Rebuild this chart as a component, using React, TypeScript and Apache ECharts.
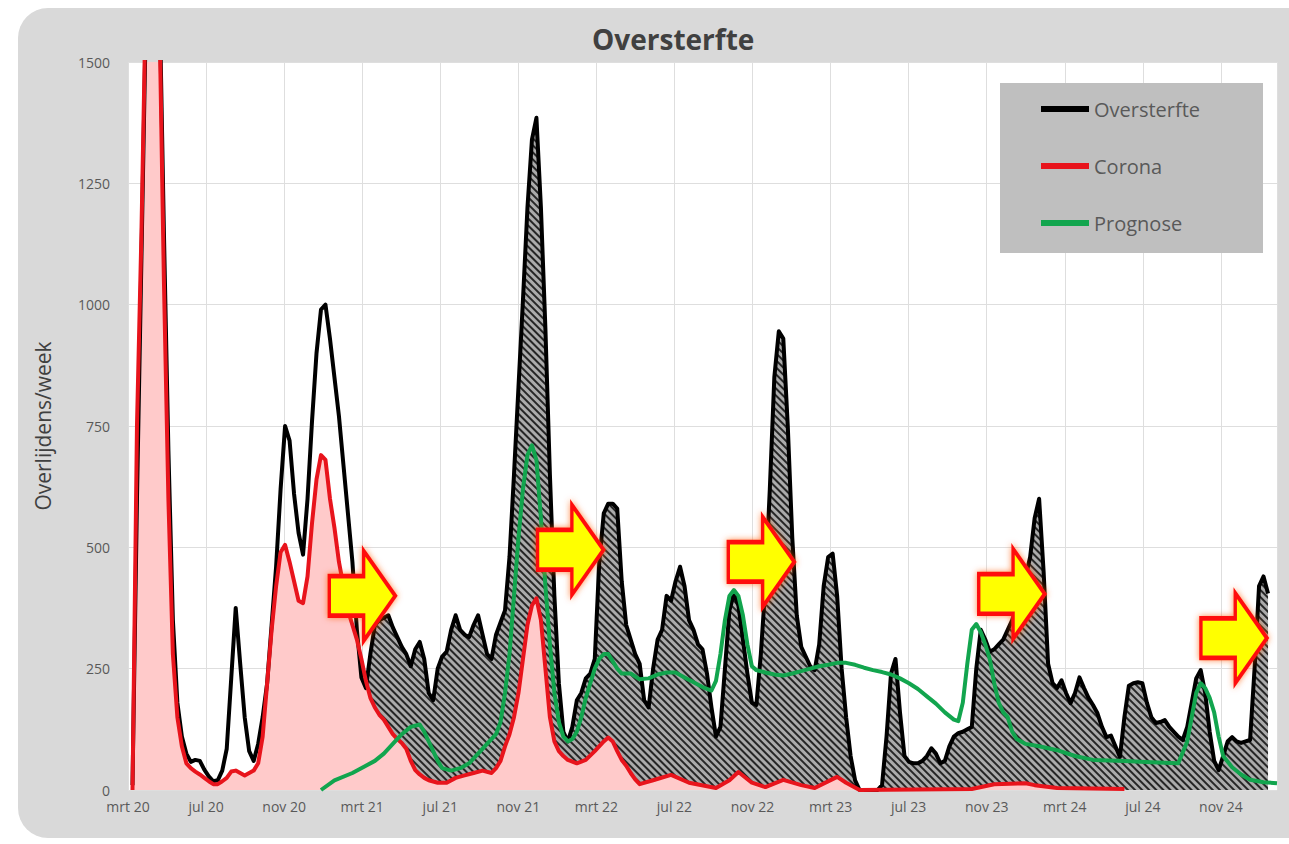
import React, { useEffect, useRef } from 'react';
import * as echarts from 'echarts';

// x axis: weeks since 1 March 2020; one tick every 4 months
const tickLabels = ['mrt 20', 'jul 20', 'nov 20', 'mrt 21', 'jul 21', 'nov 21', 'mrt 22', 'jul 22', 'nov 22', 'mrt 23', 'jul 23', 'nov 23', 'mrt 24', 'jul 24', 'nov 24'];
const WEEKS_PER_TICK = 121.75 / 7;
const X_MAX_WEEK = 256;

const legendNames = ['Oversterfte', 'Corona', 'Prognose'];

// [week, deaths per week]
const oversterfte: [number, number][] = [
  [1, 10], [2, 600], [3, 1100], [4, 1600], [5, 1800], [6, 1800], [7, 1650], [8, 1150], [9, 700], [10, 350],
  [11, 180], [12, 110], [13, 75], [14, 58], [15, 62], [16, 60], [17, 42], [18, 28], [19, 18], [20, 20],
  [21, 40], [22, 85], [23, 230], [24, 375], [25, 260], [26, 150], [27, 80], [28, 60], [29, 95], [30, 150],
  [31, 220], [32, 340], [33, 460], [34, 620], [35, 750], [36, 720], [37, 610], [38, 530], [39, 485], [40, 600],
  [41, 760], [42, 900], [43, 990], [44, 1000], [45, 930], [46, 850], [47, 770], [48, 670], [49, 570], [50, 470],
  [51, 330], [52, 232], [53, 210], [54, 280], [55, 340], [56, 350], [57, 355], [58, 360], [59, 335], [60, 315],
  [61, 295], [62, 280], [63, 255], [64, 290], [65, 305], [66, 270], [67, 200], [68, 185], [69, 250], [70, 275],
  [71, 285], [72, 330], [73, 360], [74, 330], [75, 320], [76, 315], [77, 340], [78, 360], [79, 320], [80, 280],
  [81, 270], [82, 320], [83, 345], [84, 370], [85, 480], [86, 650], [87, 830], [88, 1010], [89, 1200], [90, 1340],
  [91, 1385], [92, 1200], [93, 950], [94, 650], [95, 400], [96, 220], [97, 120], [98, 100], [99, 130], [100, 185],
  [101, 200], [102, 230], [103, 240], [104, 270], [105, 470], [106, 570], [107, 590], [108, 590], [109, 580], [110, 430],
  [111, 340], [112, 310], [113, 280], [114, 260], [115, 185], [116, 170], [117, 250], [118, 310], [119, 330], [120, 400],
  [121, 390], [122, 430], [123, 460], [124, 420], [125, 350], [126, 330], [127, 300], [128, 290], [129, 240], [130, 170],
  [131, 110], [132, 130], [133, 250], [134, 370], [135, 405], [136, 380], [137, 310], [138, 240], [139, 180], [140, 175],
  [141, 280], [142, 420], [143, 620], [144, 850], [145, 945], [146, 930], [147, 750], [148, 520], [149, 360], [150, 295],
  [151, 275], [152, 255], [153, 247], [154, 300], [155, 420], [156, 480], [157, 487], [158, 400], [159, 250], [160, 150],
  [161, 70], [162, 20], [163, 0], [167, 0], [168, 10], [169, 110], [170, 240], [171, 270], [172, 160], [173, 70],
  [174, 58], [175, 55], [176, 55], [177, 60], [178, 70], [179, 86], [180, 75], [181, 55], [182, 60], [183, 90],
  [184, 110], [185, 117], [186, 120], [187, 125], [188, 130], [189, 250], [190, 330], [191, 310], [192, 285], [193, 290],
  [194, 300], [195, 310], [196, 330], [197, 350], [198, 380], [199, 410], [200, 440], [201, 480], [202, 560], [203, 600],
  [204, 450], [205, 260], [206, 220], [207, 210], [208, 226], [209, 200], [210, 179], [211, 200], [212, 232], [213, 210],
  [214, 190], [215, 175], [216, 158], [217, 130], [218, 109], [219, 112], [220, 90], [221, 68], [222, 150], [223, 215],
  [224, 220], [225, 222], [226, 220], [227, 180], [228, 150], [229, 138], [230, 140], [231, 144], [232, 130], [233, 120],
  [234, 110], [235, 103], [236, 130], [237, 180], [238, 230], [239, 247], [240, 200], [241, 120], [242, 60], [243, 41],
  [244, 70], [245, 100], [246, 109], [247, 100], [248, 97], [249, 100], [250, 103], [251, 250], [252, 420], [253, 440],
  [254, 405],
];

const corona: [number, number][] = [
  [1, 0], [2, 750], [3, 1150], [4, 1650], [5, 1850], [6, 1800], [7, 1600], [8, 1050], [9, 600], [10, 280],
  [11, 150], [12, 90], [13, 55], [14, 45], [15, 38], [16, 32], [17, 25], [18, 18], [19, 12], [20, 12],
  [21, 18], [22, 25], [23, 38], [24, 40], [25, 35], [26, 30], [27, 35], [28, 40], [29, 55], [30, 110],
  [31, 220], [32, 330], [33, 420], [34, 490], [35, 505], [36, 470], [37, 430], [38, 390], [39, 385], [40, 440],
  [41, 550], [42, 640], [43, 690], [44, 680], [45, 600], [46, 540], [47, 470], [48, 420], [49, 370], [50, 340],
  [51, 310], [52, 270], [53, 225], [54, 190], [55, 170], [56, 155], [57, 145], [58, 130], [59, 115], [60, 105],
  [61, 97], [62, 85], [63, 60], [64, 41], [65, 32], [66, 25], [67, 20], [69, 15], [71, 15], [73, 25],
  [75, 30], [77, 35], [79, 40], [81, 35], [82, 45], [83, 60], [84, 90], [85, 115], [86, 150], [87, 200],
  [88, 270], [89, 340], [90, 380], [91, 395], [92, 350], [93, 250], [94, 150], [95, 100], [96, 80], [97, 70],
  [98, 62], [100, 55], [102, 62], [104, 80], [106, 100], [107, 108], [108, 100], [109, 80], [110, 62], [111, 50],
  [112, 35], [113, 22], [114, 12], [117, 20], [121, 31], [125, 15], [131, 4], [134, 20], [136, 37], [139, 15],
  [142, 6], [146, 21], [150, 10], [153, 4], [158, 27], [160, 15], [163, 0], [188, 2], [193, 12], [200, 14],
  [202, 10], [207, 4], [222, 2],
];

const prognose: [number, number][] = [
  [43, 0], [46, 20], [50, 35], [53, 50], [55, 60], [57, 75], [59, 95], [61, 115], [63, 130], [65, 135],
  [66, 120], [67, 100], [68, 80], [69, 60], [70, 45], [72, 40], [74, 45], [76, 55], [78, 75], [80, 95],
  [82, 115], [83, 140], [84, 200], [85, 280], [86, 400], [87, 520], [88, 620], [89, 690], [90, 710], [91, 680],
  [92, 560], [93, 420], [94, 300], [95, 200], [96, 140], [97, 110], [98, 100], [99, 105], [100, 120], [101, 150],
  [102, 190], [103, 220], [104, 250], [105, 270], [106, 280], [107, 280], [108, 265], [109, 250], [110, 240], [112, 240],
  [114, 228], [116, 230], [118, 238], [120, 242], [122, 242], [124, 232], [126, 222], [128, 212], [130, 205], [131, 225],
  [132, 280], [133, 350], [134, 400], [135, 412], [136, 400], [137, 360], [138, 300], [139, 255], [140, 247], [142, 242],
  [144, 238], [146, 236], [148, 240], [150, 245], [152, 250], [154, 255], [156, 258], [158, 262], [160, 262], [162, 258],
  [164, 252], [166, 247], [168, 243], [170, 238], [172, 230], [174, 220], [176, 208], [178, 193], [180, 178], [182, 160],
  [184, 145], [185, 142], [186, 180], [187, 260], [188, 330], [189, 342], [190, 325], [191, 300], [192, 270], [193, 220],
  [194, 180], [195, 160], [196, 150], [197, 120], [198, 105], [200, 95], [203, 90], [207, 82], [211, 70], [215, 62],
  [222, 60], [228, 57], [234, 55], [236, 100], [237, 150], [238, 200], [239, 220], [240, 210], [241, 190], [242, 160],
  [243, 110], [244, 70], [246, 47], [248, 32], [250, 21], [253, 16], [256, 14],
];

// week from which the excess (above corona) is hatched
const hatchFromWeek = 53;

// arrow annotations, centre at [week, value]
const arrowSpots: [number, number][] = [
  [52.2, 400], [98.6, 495], [141.1, 470], [196.9, 404], [246.4, 313],
];

const ARROW_PATH = 'path://M0,28L52,28L52,0L100,50L52,100L52,72L0,72Z';

export default function App() {
  const ref = useRef<HTMLDivElement>(null);

  useEffect(() => {
    document.body.style.margin = '0';
    const chart = echarts.init(ref.current as HTMLDivElement, undefined, { renderer: 'svg' });
    const font = "'Open Sans', 'Liberation Sans', sans-serif";
    const hatchDecal = {
      symbol: 'rect',
      symbolSize: 1,
      dashArrayX: [1, 0],
      dashArrayY: [1.5, 2.5],
      rotation: Math.PI / 4,
      color: '#262626',
    };
    const colors: Record<string, string> = { Oversterfte: '#000000', Corona: '#e8141c', Prognose: '#12a54e' };

    const option: any = {
      animation: false,
      backgroundColor: '#ffffff',
      textStyle: { fontFamily: font },
      graphic: [
        {
          type: 'rect', z: -5, silent: true,
          shape: { x: 18, y: 8, width: 1300, height: 830, r: 30 },
          style: { fill: '#d9d9d9' },
        },
        {
          type: 'rect', z: 6, silent: true,
          shape: { x: 1000, y: 83, width: 263, height: 170 },
          style: { fill: '#bfbfbf' },
        },
      ],
      title: {
        text: 'Oversterfte',
        left: 592,
        top: 25,
        padding: 0,
        textStyle: { fontSize: 28, fontWeight: 'bold', color: '#404040', fontFamily: font },
      },
      legend: {
        data: legendNames.map((n) => ({ name: n, itemStyle: { color: colors[n] } })),
        orient: 'vertical',
        left: 1041,
        top: 99,
        padding: 0,
        itemWidth: 48,
        itemHeight: 6,
        itemGap: 37,
        icon: 'rect',
        selectedMode: false,
        z: 10,
        textStyle: { fontSize: 20, color: '#595959', fontFamily: font },
      },
      grid: {
        left: 128, right: 12, top: 62, bottom: 54,
        show: true, backgroundColor: '#ffffff', borderWidth: 0,
      },
      xAxis: {
        type: 'value',
        min: 0,
        max: X_MAX_WEEK,
        interval: WEEKS_PER_TICK,
        axisLine: { show: false },
        axisTick: { show: false },
        splitLine: { show: true, lineStyle: { color: '#dedede', width: 1 } },
        axisLabel: {
          showMaxLabel: false,
          margin: 9,
          fontSize: 14,
          color: '#595959',
          formatter: (v: number) => {
            const r = v / WEEKS_PER_TICK;
            const i = Math.round(r);
            return Math.abs(r - i) < 0.01 ? (tickLabels[i] ?? '') : '';
          },
        },
      },
      yAxis: {
        type: 'value',
        min: 0,
        max: 1500,
        interval: 250,
        name: 'Overlijdens/week',
        nameLocation: 'middle',
        nameGap: 75,
        nameTextStyle: { fontSize: 21, color: '#404040', fontFamily: font },
        axisLine: { show: false },
        axisTick: { show: false },
        splitLine: { show: true, lineStyle: { color: '#dedede', width: 1 } },
        axisLabel: { margin: 18, fontSize: 14, color: '#595959', formatter: (v: number) => String(v) },
      },
      series: [
        {
          name: 'hatch',
          type: 'line',
          data: oversterfte.filter((p) => p[0] >= hatchFromWeek),
          symbol: 'none',
          silent: true,
          z: 1,
          lineStyle: { width: 0, decal: hatchDecal },
          itemStyle: { decal: hatchDecal },
          areaStyle: { color: '#ababab', opacity: 1 },
        },
        {
          name: 'coronaArea',
          type: 'line',
          data: corona,
          symbol: 'none',
          silent: true,
          z: 2,
          lineStyle: { width: 0 },
          areaStyle: { color: '#ffcaca', opacity: 1 },
        },
        {
          name: 'Oversterfte',
          type: 'line',
          data: oversterfte,
          symbol: 'none',
          z: 3,
          color: colors.Oversterfte,
          lineStyle: { color: colors.Oversterfte, width: 4, join: 'round' },
        },
        {
          name: 'Corona',
          type: 'line',
          data: corona,
          symbol: 'none',
          z: 3,
          color: colors.Corona,
          lineStyle: { color: colors.Corona, width: 4, join: 'round' },
        },
        {
          name: 'Prognose',
          type: 'line',
          data: prognose,
          symbol: 'none',
          z: 4,
          color: colors.Prognose,
          lineStyle: { color: colors.Prognose, width: 4, join: 'round' },
          markPoint: {
            symbol: ARROW_PATH,
            symbolSize: [66, 90],
            silent: true,
            label: { show: false },
            itemStyle: {
              color: '#ffff00',
              borderColor: '#ff1010',
              borderWidth: 4,
              shadowBlur: 6,
              shadowColor: 'rgba(255,90,0,0.7)',
            },
            data: arrowSpots.map((c) => ({ coord: c })),
          },
        },
      ],
    };

    chart.setOption(option);
    return () => chart.dispose();
  }, []);

  return <div ref={ref} style={{ width: 1289, height: 844 }} />;
}
